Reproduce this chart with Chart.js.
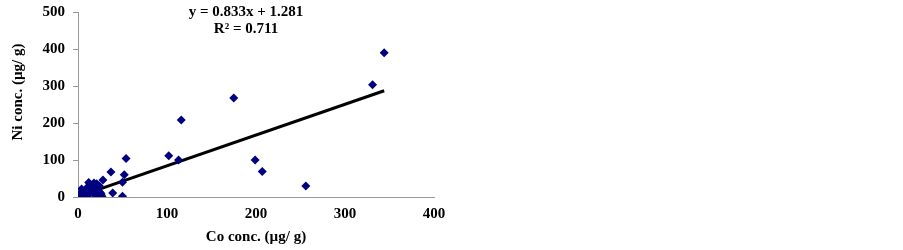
<!DOCTYPE html>
<html>
<head>
<meta charset="utf-8">
<script src="https://cdn.jsdelivr.net/npm/chart.js@4"></script>
<style>
  html, body { margin: 0; padding: 0; background: #fff; }
  #wrap { width: 903px; height: 250px; }
</style>
</head>
<body>
<div id="wrap"><canvas id="scatterChart" width="903" height="250"></canvas></div>
<script>
// Co / Ni concentration (µg/g)
const coValues = [
    344, 331, 175, 116, 102, 113, 54, 199, 207, 256,
    37, 52, 50, 50, 39, 28, 27,
    12, 18, 21, 24, 4, 3, 1, 2, 6, 8, 10, 14, 16, 19, 22, 25,
    5, 9, 13, 17, 20, 11, 15, 7, 23, 26, 1.5, 3.5
];
const niValues = [
    391, 304, 268, 209, 112, 100, 104, 100, 69, 30,
    68, 60, 40, 2, 11, 46, 2,
    39, 38, 36, 30, 22, 10, 3, 6, 14, 18, 25, 30, 33, 28, 20, 12,
    2, 4, 8, 10, 6, 20, 15, 5, 3, 8, 1, 12
];
const trendSlope = 0.833;
const trendIntercept = 1.281;
const trendRange = [0, 344];
const xTicks = [0, 100, 200, 300, 400];
const yTicks = [0, 100, 200, 300, 400, 500];

const points = coValues.map((x, i) => ({ x: x, y: niValues[i] }));
const trendPoints = trendRange.map(x => ({ x: x, y: trendSlope * x + trendIntercept }));

const fontFamily = '"Liberation Serif", "Times New Roman", serif';

// 方程式文字 + Y 軸標題
const labelPlugin = {
    id: 'labels',
    afterDraw(chart) {
        const ctx = chart.ctx;
        ctx.save();
        ctx.fillStyle = '#000';
        ctx.font = 'bold 15px ' + fontFamily;
        ctx.textAlign = 'center';
        ctx.textBaseline = 'middle';
        ctx.fillText('y = 0.833x + 1.281', 246, 12);
        ctx.fillText('R² = 0.711', 246, 29);
        ctx.translate(18, 92);
        ctx.rotate(-Math.PI / 2);
        ctx.fillText('Ni conc. (µg/ g)', 0, 0);
        ctx.restore();
    }
};

new Chart(document.getElementById('scatterChart'), {
    type: 'scatter',
    data: {
        datasets: [{
            label: 'Ni vs Co',
            data: points,
            pointStyle: 'rectRot',
            pointRadius: 4.5,
            backgroundColor: '#000080',
            borderColor: '#000080',
            borderWidth: 0
        }, {
            label: 'Linear',
            type: 'line',
            data: trendPoints,
            borderColor: '#000',
            borderWidth: 3,
            pointRadius: 0,
            fill: false
        }]
    },
    options: {
        responsive: false,
        animation: false,
        layout: { padding: { left: 0, right: 469, top: 12, bottom: 0 } },
        plugins: {
            legend: { display: false },
            tooltip: { enabled: false }
        },
        scales: {
            x: {
                type: 'linear',
                min: 0,
                max: 400,
                afterBuildTicks: scale => { scale.ticks = xTicks.map(v => ({ value: v })); },
                afterFit: scale => { scale.height = 53; },
                grid: { display: false, drawOnChartArea: false, drawTicks: true, tickLength: 5, color: '#999' },
                border: { color: '#999', width: 1 },
                ticks: { color: '#000', font: { family: fontFamily, size: 15, weight: 'bold' }, padding: 3 },
                title: { display: true, text: 'Co conc. (µg/ g)', color: '#000', font: { family: fontFamily, size: 15, weight: 'bold' }, padding: { top: 2 } }
            },
            y: {
                type: 'linear',
                min: 0,
                max: 500,
                afterBuildTicks: scale => { scale.ticks = yTicks.map(v => ({ value: v })); },
                afterFit: scale => { scale.width = 78; },
                grid: { display: true, drawOnChartArea: false, drawTicks: true, tickLength: 5, color: '#999' },
                border: { color: '#999', width: 1 },
                ticks: { color: '#000', font: { family: fontFamily, size: 15, weight: 'bold', lineHeight: 0.6 }, padding: 8 },
                title: { display: false }
            }
        }
    },
    plugins: [labelPlugin]
});
</script>
</body>
</html>
